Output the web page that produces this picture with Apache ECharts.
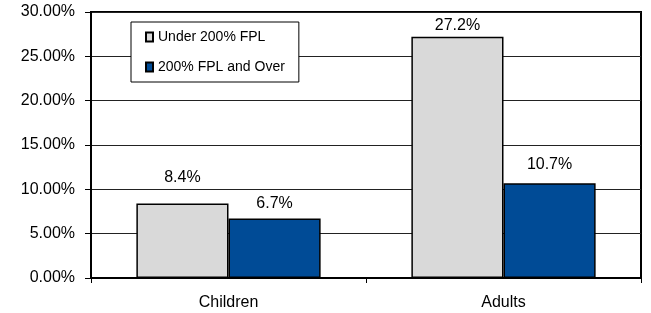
<!DOCTYPE html>
<html>
<head>
<meta charset="utf-8">
<script src="https://cdn.jsdelivr.net/npm/echarts@6/dist/echarts.min.js"></script>
<style>
  html, body { margin: 0; padding: 0; background: #fff; }
  #myChart { width: 651px; height: 313px; }
</style>
</head>
<body>
<div id="myChart"></div>
<script>
// categories and series values (percent)
var categories = ['Children', 'Adults'];
var underFpl = [8.4, 27.2];   // Under 200% FPL
var overFpl = [6.7, 10.7];    // 200% FPL and Over
var seriesNames = ['Under 200% FPL', '200% FPL and Over'];

// label gap above each bar (px), as in the original
var underLabelGap = [18, 3];
var overLabelGap = [7, 11];

var font = "'Liberation Sans', Arial, sans-serif";

function barData(values, gaps) {
  return values.map(function (v, i) {
    return { value: v, label: { distance: gaps[i] } };
  });
}

var labelStyle = {
  show: true, position: 'top', fontSize: 16, color: '#000', fontFamily: font,
  formatter: function (p) { return p.value.toFixed(1) + '%'; }
};

var option = {
  animation: false,
  textStyle: { fontFamily: font },
  grid: {
    left: 91, right: 10, top: 12, bottom: 35,
    show: true, borderColor: '#000', borderWidth: 2, backgroundColor: '#fff'
  },
  legend: {
    left: 131, top: 22,
    orient: 'vertical',
    icon: 'rect',
    itemWidth: 7, itemHeight: 9,
    itemGap: 16,
    itemTextGap: 2,
    padding: [8, 14, 8, 14],
    backgroundColor: '#fff',
    borderColor: '#000', borderWidth: 1,
    textStyle: { fontSize: 14, color: '#000', fontFamily: font },
    data: seriesNames
  },
  xAxis: {
    type: 'category',
    data: categories,
    axisLine: { lineStyle: { color: '#000', width: 2 } },
    axisTick: { show: true, length: 5, lineStyle: { color: '#000' } },
    axisLabel: { fontSize: 16, color: '#000', margin: 17, fontFamily: font }
  },
  yAxis: {
    type: 'value',
    min: 0, max: 30, interval: 5,
    axisLine: { show: true, lineStyle: { color: '#000', width: 2 } },
    axisTick: { show: true, length: 6, lineStyle: { color: '#000' } },
    axisLabel: {
      fontSize: 16, color: '#000', margin: 16, fontFamily: font,
      formatter: function (v) { return v.toFixed(2) + '%'; }
    },
    splitLine: { lineStyle: { color: '#222', width: 1 } }
  },
  series: [
    {
      name: seriesNames[0],
      type: 'bar',
      data: barData(underFpl, underLabelGap),
      barGap: '0%',
      barCategoryGap: '33%',
      itemStyle: { color: '#d9d9d9', borderColor: '#000', borderWidth: 1.5 },
      label: labelStyle
    },
    {
      name: seriesNames[1],
      type: 'bar',
      data: barData(overFpl, overLabelGap),
      itemStyle: { color: '#004b96', borderColor: '#000', borderWidth: 1.5 },
      label: labelStyle
    }
  ]
};

var myChart = echarts.init(document.getElementById('myChart'));
myChart.setOption(option);
</script>
</body>
</html>
